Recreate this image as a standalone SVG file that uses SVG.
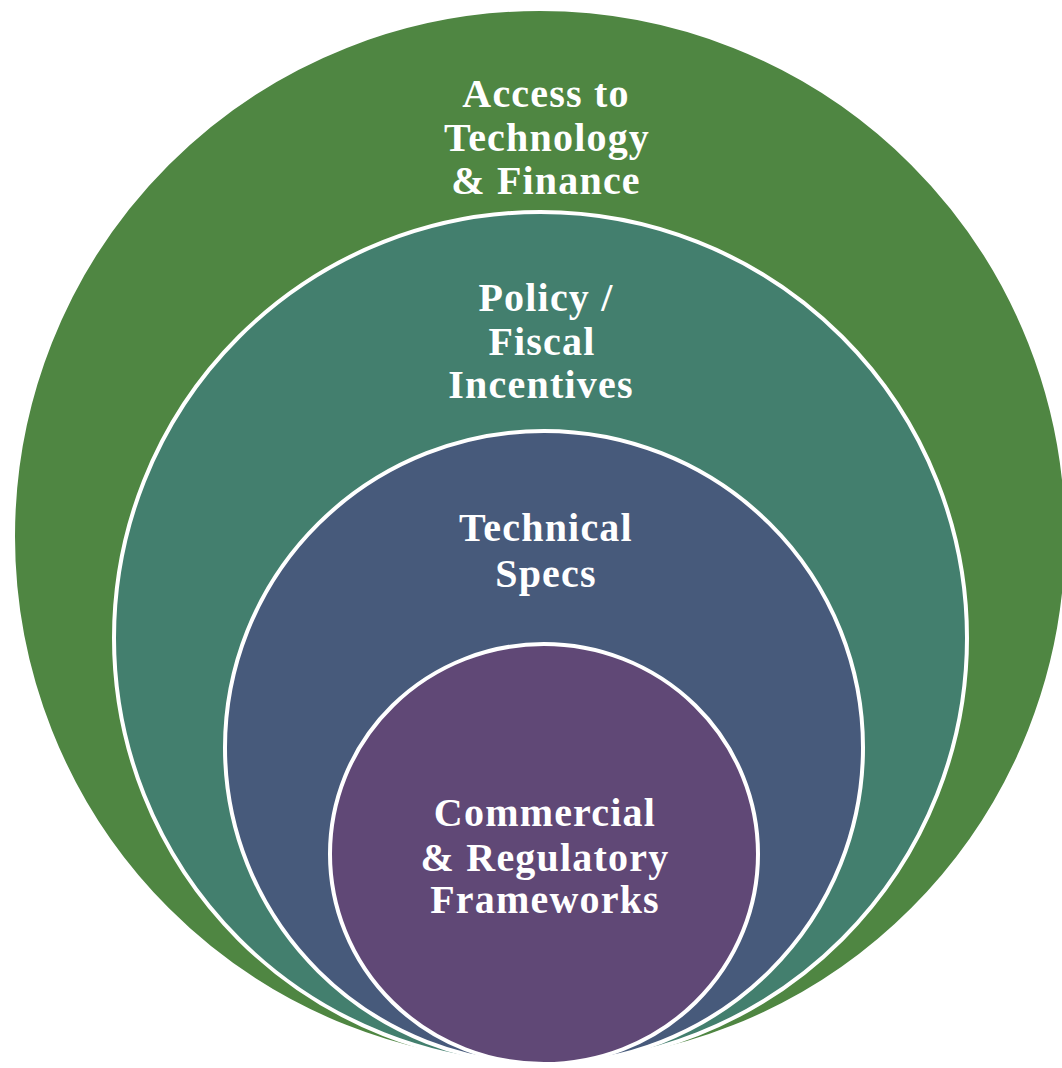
<svg xmlns="http://www.w3.org/2000/svg" width="1062" height="1068" viewBox="0 0 1062 1068">
  <style>
    .ring { stroke: #ffffff; stroke-width: 4; }
    .lbl { font-family: "Liberation Serif", "Times New Roman", serif; font-weight: bold; font-size: 40px; letter-spacing: 1.2px; fill: #ffffff; text-anchor: middle; }
  </style>
  <rect x="0" y="0" width="1062" height="1068" fill="#ffffff"/>
  <g id="node-access">
    <ellipse class="ring" cx="540" cy="536.5" rx="527" ry="527.5" fill="#4f8642"/>
    <text class="lbl" x="546" y="107">Access to</text>
    <text class="lbl" x="547" y="151">Technology</text>
    <text class="lbl" x="546" y="194">&amp; Finance</text>
  </g>
  <g id="node-policy">
    <ellipse class="ring" cx="540.5" cy="638" rx="426.5" ry="426" fill="#437f6e"/>
    <text class="lbl" x="546" y="311">Policy /</text>
    <text class="lbl" x="542" y="355">Fiscal</text>
    <text class="lbl" x="541" y="398">Incentives</text>
  </g>
  <g id="node-technical">
    <ellipse class="ring" cx="544" cy="747.5" rx="319" ry="316.5" fill="#475a7b"/>
    <text class="lbl" x="546" y="541">Technical</text>
    <text class="lbl" x="546" y="587">Specs</text>
  </g>
  <g id="node-commercial">
    <ellipse class="ring" cx="544" cy="854" rx="214" ry="210" fill="#604876"/>
    <text class="lbl" x="545" y="826">Commercial</text>
    <text class="lbl" x="545" y="871">&amp; Regulatory</text>
    <text class="lbl" x="545" y="913">Frameworks</text>
  </g>
  <g id="connectors"></g>
</svg>
